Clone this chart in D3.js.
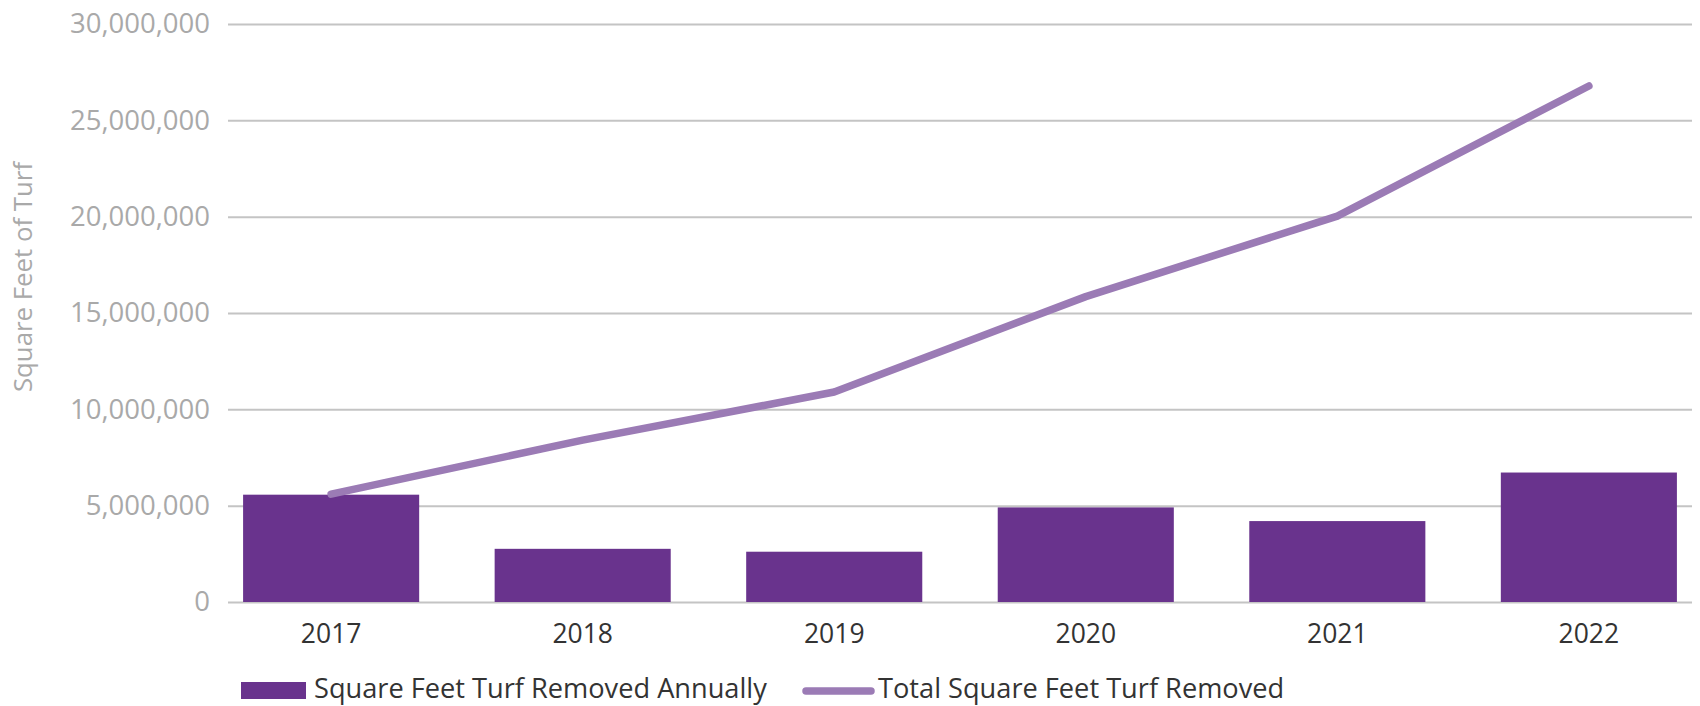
<!DOCTYPE html>
<html>
<head>
<meta charset="utf-8">
<script src="https://cdn.jsdelivr.net/npm/d3@7"></script>
<style>
  body { margin: 0; background: #fff; }
  svg { font-family: "Open Sans", sans-serif; }
</style>
</head>
<body>
<div id="chart"></div>
<script>
"use strict";
const width = 1700; // px
const height = 706; // px

const years = ["2017", "2018", "2019", "2020", "2021", "2022"];
const annualRemoved = [5570000, 2760000, 2610000, 4910000, 4200000, 6720000];
const totalRemoved = [5600000, 8400000, 10900000, 15850000, 20030000, 26780000];
const yTicks = [0, 5000000, 10000000, 15000000, 20000000, 25000000, 30000000];
const seriesNames = ["Square Feet Turf Removed Annually", "Total Square Feet Turf Removed"];

const barColor = "#69338d";
const lineColor = "#9b7bb5";
const gridColor = "#c4c4c4";

const plot = {left: 228, right: 1692, top: 24, bottom: 602};

const svg = d3.select("#chart")
    .append("svg")
    .attr("width", width)
    .attr("height", height);

const x = d3.scaleBand()
    .domain(years)
    .range([plot.left, plot.right])
    .paddingInner(0.3)
    .paddingOuter(0.06);

const y = d3.scaleLinear()
    .domain([0, 30000000])
    .range([plot.bottom, plot.top]);

// gridlines + y labels
const yAxis = d3.axisLeft(y)
    .tickValues(yTicks)
    .tickFormat(d3.format(","))
    .tickSize(-(plot.right - plot.left))
    .tickPadding(18);

svg.append("g")
    .attr("transform", `translate(${plot.left},0)`)
    .call(yAxis)
    .call((g) => g.select(".domain").remove())
    .call((g) => g.selectAll(".tick line").attr("stroke", gridColor).attr("stroke-width", 2))
    .call((g) => g.selectAll(".tick text")
        .attr("fill", "#a9a9a9")
        .attr("font-size", 27.5)
        .attr("font-family", "Open Sans, sans-serif"));

// y title
svg.append("text")
    .attr("transform", `translate(32,${(plot.top + plot.bottom) / 2 - 36}) rotate(-90)`)
    .attr("text-anchor", "middle")
    .attr("fill", "#a9a9a9")
    .attr("font-size", 25.8)
    .text("Square Feet of Turf");

// bars
svg.append("g")
    .selectAll("rect")
    .data(annualRemoved)
    .join("rect")
    .attr("x", (d, i) => x(years[i]))
    .attr("y", (d) => y(d))
    .attr("width", x.bandwidth())
    .attr("height", (d) => y(0) - y(d))
    .attr("fill", barColor);

// x labels
const xAxis = d3.axisBottom(x).tickSize(0).tickPadding(22);
svg.append("g")
    .attr("transform", `translate(0,${plot.bottom})`)
    .call(xAxis)
    .call((g) => g.select(".domain").remove())
    .call((g) => g.selectAll(".tick text")
        .attr("fill", "#333")
        .attr("font-size", 26.5)
        .attr("font-family", "Open Sans, sans-serif"));

// cumulative line
const line = d3.line()
    .x((d, i) => x(years[i]) + x.bandwidth() / 2)
    .y((d) => y(d));

svg.append("path")
    .datum(totalRemoved)
    .attr("fill", "none")
    .attr("stroke", lineColor)
    .attr("stroke-width", 7.5)
    .attr("stroke-linecap", "round")
    .attr("stroke-linejoin", "round")
    .attr("d", line);

// legend
const legend = svg.append("g").attr("font-size", 27.2).attr("fill", "#333");
legend.append("rect")
    .attr("x", 241).attr("y", 682)
    .attr("width", 65).attr("height", 17)
    .attr("fill", barColor);
legend.append("text")
    .attr("x", 314).attr("y", 698)
    .text(seriesNames[0]);
legend.append("line")
    .attr("x1", 806).attr("x2", 871)
    .attr("y1", 691).attr("y2", 691)
    .attr("stroke", lineColor)
    .attr("stroke-width", 7.5)
    .attr("stroke-linecap", "round");
legend.append("text")
    .attr("x", 878).attr("y", 698)
    .text(seriesNames[1]);
</script>
</body>
</html>
